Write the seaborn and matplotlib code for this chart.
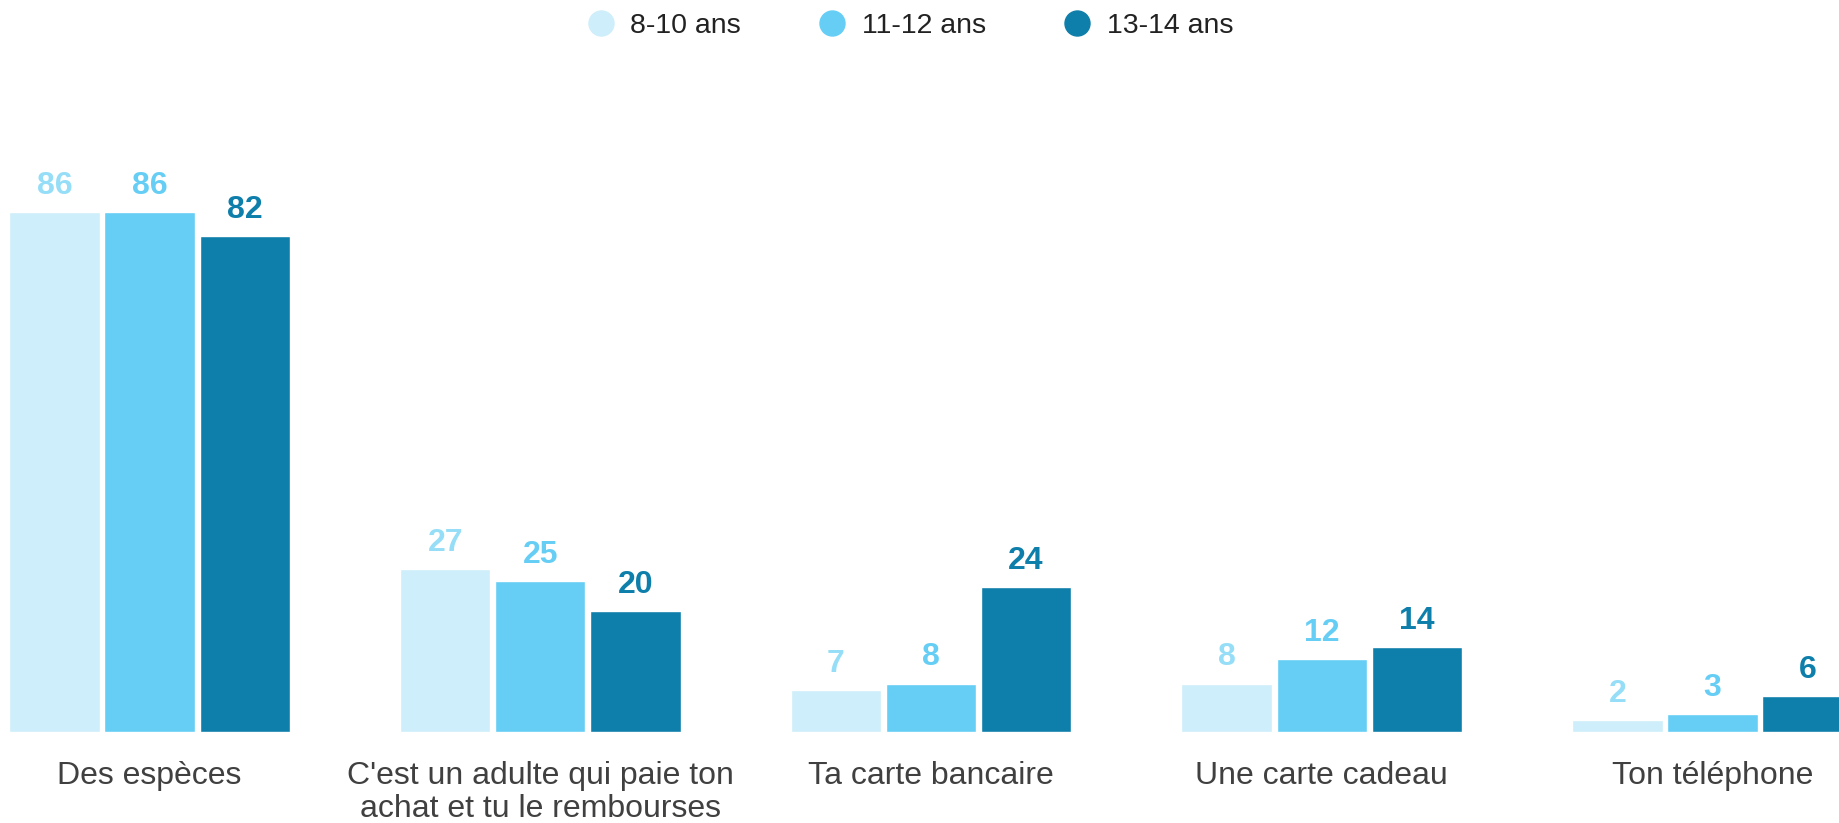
import pandas as pd
import seaborn as sns
import matplotlib.pyplot as plt
from matplotlib.lines import Line2D

# Data
categories = ["Des espèces",
              "C'est un adulte qui paie ton\nachat et tu le rembourses",
              "Ta carte bancaire",
              "Une carte cadeau",
              "Ton téléphone"]
age_groups = ["8-10 ans", "11-12 ans", "13-14 ans"]
vals_8_10 = [86, 27, 7, 8, 2]
vals_11_12 = [86, 25, 8, 12, 3]
vals_13_14 = [82, 20, 24, 14, 6]

bar_colors = ["#cdeefa", "#66cef5", "#0e7eaa"]
label_colors = ["#96def7", "#66cef5", "#0e7eaa"]

df = pd.DataFrame({
    "cat": categories * 3,
    "age": [a for a in age_groups for _ in categories],
    "val": vals_8_10 + vals_11_12 + vals_13_14,
})

sns.set_theme(style="white")
plt.rcParams['font.family'] = ['Liberation Sans', 'DejaVu Sans']

fig = plt.figure(figsize=(18.39, 8.23), dpi=100)
ax = fig.add_axes([0, 0.1106, 1, 0.7347])

sns.barplot(data=df, x="cat", y="val", hue="age", order=categories,
            hue_order=age_groups, palette=bar_colors, width=0.73, gap=0.05,
            saturation=1, legend=False, ax=ax)

for cont, col in zip(ax.containers, label_colors):
    ax.bar_label(cont, padding=8, fontsize=23, fontweight="bold", color=col)

ax.set_xlim(-0.383, 4.324)
ax.set_ylim(0, 100)
ax.set_xlabel("")
ax.set_ylabel("")
ax.set_yticks([])
ax.tick_params(axis="x", length=0, pad=21, labelsize=23, labelcolor="#404040")
for lbl in ax.get_xticklabels():
    lbl.set_linespacing(1.12)
for s in ax.spines.values():
    s.set_visible(False)

handles = [Line2D([], [], marker="o", linestyle="", markersize=18,
                  markerfacecolor=c, markeredgecolor=c) for c in bar_colors]
fig.legend(handles, age_groups, loc="upper center", bbox_to_anchor=(0.491, 1.015),
           ncol=3, frameon=False, fontsize=20.5, handletextpad=0.05,
           columnspacing=2.2, labelcolor="#222222")

fig.savefig("out.png", dpi=100)
